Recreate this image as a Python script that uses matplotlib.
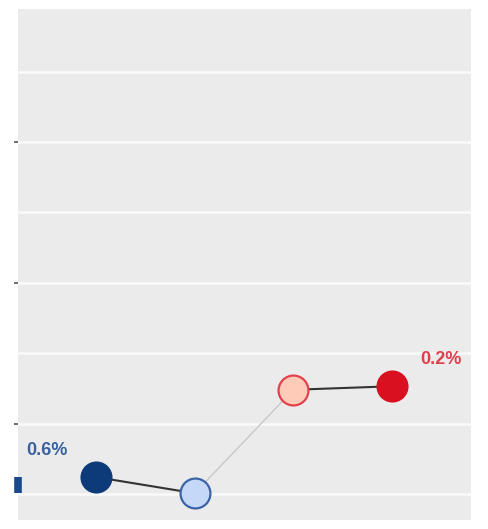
import matplotlib
matplotlib.use("Agg")
import matplotlib.pyplot as plt

# Data
positions = [1, 2, 3, 4]
values = [0.24, 0.01, 1.48, 1.53]
fill_colors = ["#0d3b7a", "#c5d8f8", "#fdcbb8", "#d9101f"]
edge_colors = ["#0d3b7a", "#3c63a6", "#e2414d", "#d9101f"]
change_labels = ["0.6%", "0.2%"]
label_colors = ["#3b62a0", "#e0404c"]
bar_colors = ["#1b4a8c", "#e3233a"]
grid_values = [0, 1, 2, 3, 4, 5, 6]
major_ticks = [1, 3, 5]

plt.rcParams['font.family'] = ['Liberation Sans', 'DejaVu Sans']
fig = plt.figure(figsize=(4.89, 5.29), dpi=100)
ax = fig.add_axes([18.5 / 489, 9 / 529, 452.5 / 489, 511 / 529])
ax.set_facecolor("#ebebeb")
xlim = (0.215, 4.80)
ax.set_xlim(*xlim)
ax.set_ylim(-0.37, 6.89)

for g in grid_values:
    ax.axhline(g, color="#fafafa", lw=1.8, zorder=1)

for s in ax.spines.values():
    s.set_visible(False)
ax.set_xticks([])
ax.set_yticks(major_ticks)
ax.set_yticklabels([])
ax.tick_params(axis="y", length=3, width=1.2, color="#555555", direction="out", pad=0)

# connecting lines
ax.plot(positions[0:2], values[0:2], color="#333333", lw=1.5, zorder=2)
ax.plot(positions[1:3], values[1:3], color="#c8c8c8", lw=1.0, zorder=2)
ax.plot(positions[2:4], values[2:4], color="#333333", lw=1.5, zorder=2)

for x, v, fc, ec in zip(positions, values, fill_colors, edge_colors):
    ax.plot([x], [v], marker="o", ms=21.5, markerfacecolor=fc, markeredgecolor=ec,
            markeredgewidth=1.6, linestyle="none", zorder=3)

# range bars at the edges
ax.plot([xlim[0], xlim[0]], [values[1], values[0]], color=bar_colors[0], lw=5.5,
        solid_capstyle="butt", clip_on=False, zorder=4)
ax.plot([xlim[1], xlim[1]], [values[2] + 0.02, values[3] - 0.02], color=bar_colors[1], lw=4.3,
        solid_capstyle="projecting", clip_on=False, zorder=4)

ax.annotate(change_labels[0], xy=(xlim[0], values[0]), xytext=(5.3, 19.3),
            textcoords="offset points", ha="left", va="center",
            fontsize=13, fontweight="bold", color=label_colors[0])
ax.annotate(change_labels[1], xy=(xlim[1], values[3]), xytext=(-36.5, 19.3),
            textcoords="offset points", ha="left", va="center",
            fontsize=13, fontweight="bold", color=label_colors[1])

fig.savefig("out.png", dpi=100)
